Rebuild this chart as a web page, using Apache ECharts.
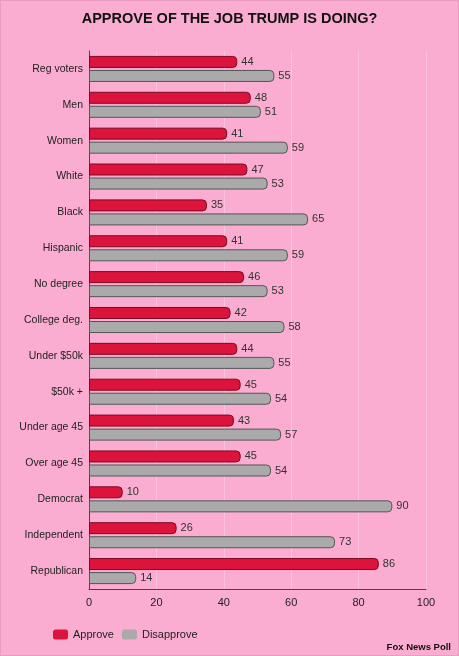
<!DOCTYPE html>
<html><head><meta charset="utf-8">
<script src="https://cdn.jsdelivr.net/npm/echarts@6/dist/echarts.min.js"></script>
<style>html,body{margin:0;padding:0;background:#FAADD0;}#c{width:459px;height:656px;box-sizing:border-box;border:1px solid #e89cbf;}</style>
</head><body><div id="c"></div>
<script>
const categories = ["Reg voters","Men","Women","White","Black","Hispanic","No degree","College deg.","Under $50k","$50k +","Under age 45","Over age 45","Democrat","Independent","Republican"];
const approve = [44,48,41,47,35,41,46,42,44,45,43,45,10,26,86];
const disapprove = [55,51,59,53,65,59,53,58,55,54,57,54,90,73,14];
const xTicks = [0,20,40,60,80,100];

const chart = echarts.init(document.getElementById('c'));
chart.setOption({
  backgroundColor: '#FAADD0',
  textStyle: {fontFamily: 'Liberation Sans, Arial, sans-serif'},
  title: {text: 'APPROVE OF THE JOB TRUMP IS DOING?', left: 'center', top: 5,
    textStyle: {fontSize: 14.5, fontWeight: 'bold', color: '#111', fontFamily: 'Liberation Sans, Arial, sans-serif'}},
  grid: {left: 88, right: 32, top: 50, bottom: 66, containLabel: false},
  legend: {left: 52, top: 628, padding: 0, itemWidth: 15, itemHeight: 10, itemGap: 8,
    icon: 'roundRect', textStyle: {fontSize: 11, color: '#222'},
    itemStyle: {borderWidth: 0},
    data: ['Approve', 'Disapprove']},
  xAxis: {type: 'value', min: xTicks[0], max: xTicks[xTicks.length-1], interval: 20,
    axisLine: {show: true, lineStyle: {color: '#444'}}, axisTick: {show: false},
    axisLabel: {fontSize: 11, color: '#222', margin: 8},
    splitLine: {show: true, lineStyle: {color: '#fbc3dd', width: 1}}},
  yAxis: {type: 'category', data: categories, inverse: true,
    axisLine: {show: true, lineStyle: {color: '#444'}}, axisTick: {show: false},
    axisLabel: {fontSize: 10.5, color: '#222', margin: 6}},
  series: [
    {name: 'Approve', type: 'bar', data: approve, barWidth: 12, barGap: '17%',
      itemStyle: {color: '#DC143C', borderColor: '#7a0a22', borderWidth: 1, borderRadius: [0,4,4,0]},
      label: {show: true, position: 'right', distance: 4, fontSize: 11, color: '#333'}},
    {name: 'Disapprove', type: 'bar', data: disapprove, barWidth: 12,
      itemStyle: {color: '#AAAAAA', borderColor: '#555', borderWidth: 1, borderRadius: [0,4,4,0]},
      label: {show: true, position: 'right', distance: 4, fontSize: 11, color: '#333'}}
  ],
  graphic: [{type: 'text', right: 7, bottom: 3,
    style: {text: 'Fox News Poll', fontSize: 9.5, fontWeight: 'bold', fill: '#111', fontFamily: 'Liberation Sans, Arial, sans-serif'}}]
});
</script></body></html>
